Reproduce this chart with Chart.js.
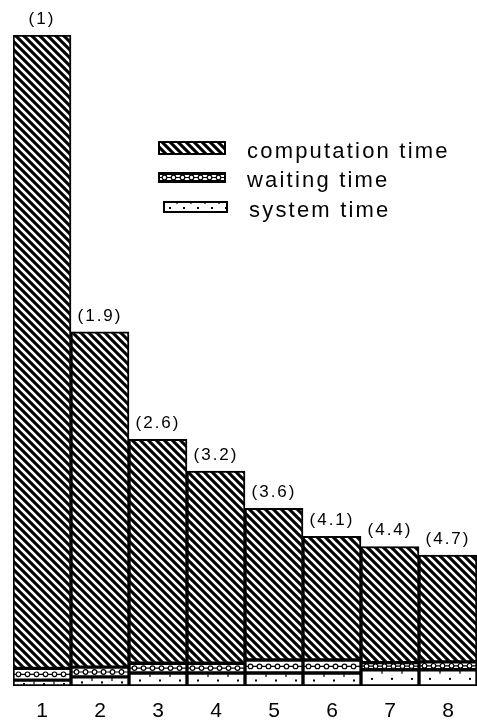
<!DOCTYPE html>
<html>
<head>
<meta charset="utf-8">
<script src="https://cdn.jsdelivr.net/npm/chart.js@4/dist/chart.umd.min.js"></script>
<style>
html,body{margin:0;padding:0;background:#fff;overflow:hidden;}
#wrap{width:477px;height:723px;position:relative;}
</style>
</head>
<body>
<div id="wrap"><canvas id="c"></canvas></div>
<script>
// ---- data ----
const categories = ['1','2','3','4','5','6','7','8'];
const speedupLabels = ['(1)','(1.9)','(2.6)','(3.2)','(3.6)','(4.1)','(4.4)','(4.7)'];
const computationTime = [97.3, 51.5, 34.4, 29.5, 23.3, 19.0, 17.8, 16.4];
const waitingTime = [1.8, 1.5, 1.5, 1.5, 2.0, 2.0, 1.1, 1.2];
const systemTime = [0.9, 1.4, 2.0, 2.0, 2.0, 2.0, 2.5, 2.5];
const seriesNames = ['computation time', 'waiting time', 'system time'];

// ---- patterns ----
function stripePattern() {
  const c = document.createElement('canvas');
  c.width = 8; c.height = 8;
  const g = c.getContext('2d');
  g.fillStyle = '#000'; g.fillRect(0, 0, 8, 8);
  g.strokeStyle = '#fff'; g.lineWidth = 2.6;
  g.beginPath();
  g.moveTo(-2, -2); g.lineTo(10, 10);
  g.moveTo(-2, 6); g.lineTo(2, 10);
  g.moveTo(6, -2); g.lineTo(10, 2);
  g.stroke();
  return g.createPattern(c, 'repeat');
}
const stripes = stripePattern();

function drawChain(ctx, x0, x1, yMid, step) {
  ctx.strokeStyle = '#000'; ctx.lineWidth = 1.2;
  ctx.beginPath(); ctx.moveTo(x0, yMid); ctx.lineTo(x1, yMid); ctx.stroke();
  for (let x = x0 + step / 2; x < x1; x += step) {
    ctx.beginPath(); ctx.arc(x, yMid, 2.3, 0, Math.PI * 2);
    ctx.fillStyle = '#fff'; ctx.fill(); ctx.stroke();
  }
}
function drawDots(ctx, x0, x1, yTop, yBot, step) {
  const yMid = (yTop + yBot) / 2 + 1;
  ctx.fillStyle = '#000'; ctx.strokeStyle = '#000'; ctx.lineWidth = 1.2;
  for (let x = x0 + step / 2; x < x1; x += step) {
    ctx.fillRect(x - 1, yMid - 1, 2, 2);
    ctx.beginPath(); ctx.moveTo(x + step / 2, yTop); ctx.lineTo(x + step / 2, yTop + 3); ctx.stroke();
  }
}

const decoPlugin = {
  id: 'deco',
  afterDatasetsDraw(chart) {
    const ctx = chart.ctx;
    [1, 2].forEach(di => {
      const meta = chart.getDatasetMeta(di);
      meta.data.forEach(bar => {
        const p = bar.getProps(['x', 'y', 'base', 'width'], true);
        const x0 = p.x - p.width / 2 + 1, x1 = p.x + p.width / 2 - 1;
        const yTop = Math.min(p.y, p.base) + 1, yBot = Math.max(p.y, p.base) - 1;
        ctx.save();
        ctx.beginPath(); ctx.rect(x0, yTop, x1 - x0, yBot - yTop); ctx.clip();
        if (di === 1) drawChain(ctx, x0, x1, (yTop + yBot) / 2, 9);
        else drawDots(ctx, x0, x1, yTop, yBot, 20);
        ctx.restore();
      });
    });
    // speedup labels above bars
    const top = chart.getDatasetMeta(0);
    ctx.save();
    ctx.fillStyle = '#000';
    ctx.font = '17px "Liberation Sans", Arial, sans-serif';
    ctx.letterSpacing = '2px';
    ctx.textAlign = 'center'; ctx.textBaseline = 'middle';
    top.data.forEach((bar, i) => {
      const p = bar.getProps(['x', 'y'], true);
      ctx.fillText(speedupLabels[i], p.x, p.y - 16);
    });
    ctx.restore();
    // legend
    ctx.save();
    const rows = [
      {y: 141, h: 14, x: 158, w: 68, kind: 0},
      {y: 172, h: 11, x: 158, w: 68, kind: 1},
      {y: 201, h: 12, x: 163, w: 65, kind: 2}
    ];
    const textY = [152, 181, 211];
    const textX = [247, 247, 249];
    rows.forEach((r, i) => {
      if (r.kind === 0) { ctx.fillStyle = stripes; } else { ctx.fillStyle = '#fff'; }
      ctx.fillRect(r.x, r.y, r.w, r.h);
      ctx.save();
      ctx.beginPath(); ctx.rect(r.x, r.y, r.w, r.h); ctx.clip();
      if (r.kind === 1) { ctx.fillStyle = '#000'; ctx.fillRect(r.x, r.y, r.w, r.h); ctx.fillStyle='#fff'; ctx.fillRect(r.x+2, r.y+3, r.w-4, r.h-6); drawChain(ctx, r.x + 2, r.x + r.w - 2, r.y + r.h / 2, 9); }
      if (r.kind === 2) drawDots(ctx, r.x, r.x + r.w, r.y, r.y + r.h, 14);
      ctx.restore();
      ctx.strokeStyle = '#000'; ctx.lineWidth = 2;
      ctx.strokeRect(r.x + 1, r.y + 1, r.w - 2, r.h - 2);
      ctx.fillStyle = '#000';
      ctx.font = '22px "Liberation Sans", Arial, sans-serif';
      ctx.letterSpacing = '2.2px';
      ctx.textAlign = 'left'; ctx.textBaseline = 'middle';
      ctx.fillText(seriesNames[i], textX[i], textY[i]);
    });
    ctx.restore();
  }
};

const common = {
  borderColor: '#000',
  borderWidth: 2,
  borderSkipped: false,
  categoryPercentage: 1.0,
  barPercentage: 1.0
};

new Chart(document.getElementById('c'), {
  type: 'bar',
  data: {
    labels: categories,
    datasets: [
      Object.assign({label: seriesNames[0], data: computationTime, backgroundColor: stripes, order: 3}, common),
      Object.assign({label: seriesNames[1], data: waitingTime, backgroundColor: '#fff', order: 2}, common),
      Object.assign({label: seriesNames[2], data: systemTime, backgroundColor: '#fff', order: 1}, common)
    ]
  },
  options: {
    responsive: true,
    maintainAspectRatio: false,
    animation: false,
    events: [],
    layout: {padding: {left: 13, right: 0, top: 35, bottom: 0}},
    plugins: {legend: {display: false}, tooltip: {enabled: false}},
    scales: {
      x: {
        stacked: true,
        grid: {display: false},
        border: {display: false},
        ticks: {color: '#000', font: {size: 21, family: '"Liberation Sans", Arial, sans-serif'}, padding: 5},
        afterFit(s) { s.height = 37; }
      },
      y: {
        stacked: true,
        display: false,
        min: 0,
        max: 100
      }
    }
  },
  plugins: [decoPlugin]
});
</script>
</body>
</html>
